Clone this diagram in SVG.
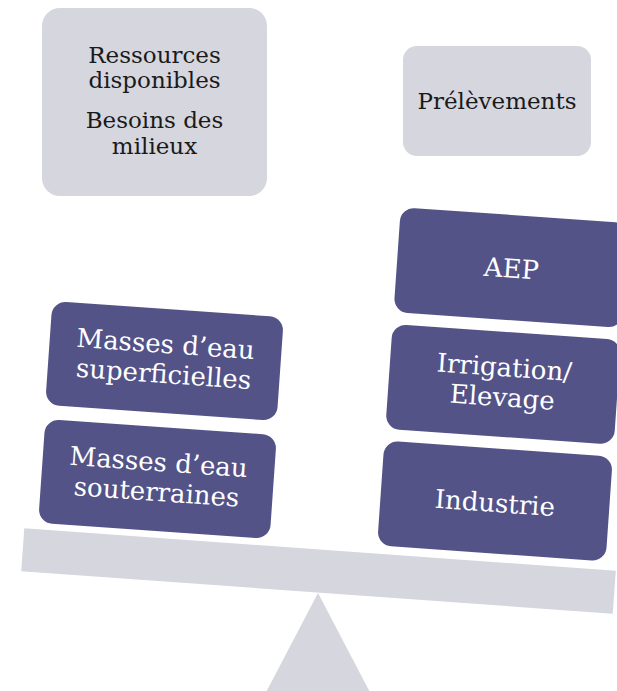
<svg xmlns="http://www.w3.org/2000/svg" width="617" height="691" viewBox="0 0 617 691">
<style>
.gray{fill:#d5d6de}
.purple{fill:#535388}
.tg{font-family:"DejaVu Serif",serif;font-size:23px;fill:#1a1a1a;text-anchor:middle}
.tw{font-family:"DejaVu Serif",serif;font-size:26px;fill:#ffffff;text-anchor:middle}
</style>
<rect width="617" height="691" fill="#ffffff"/>
<g id="support">
<polygon class="gray" points="318,593 262,700 374,700"/>
</g>
<g id="beam">
<rect class="gray" x="-296.5" y="-21.5" width="593" height="43" transform="translate(318.5,571) rotate(4.1)"/>
</g>
<g id="ressources">
<rect class="gray" x="42" y="8" width="225" height="188" rx="18"/>
<text class="tg" x="154.5" y="63">Ressources</text>
<text class="tg" x="154.5" y="88">disponibles</text>
<text class="tg" x="154.5" y="128">Besoins des</text>
<text class="tg" x="154.5" y="154">milieux</text>
</g>
<g id="prelevements">
<rect class="gray" x="403" y="46" width="188" height="110" rx="14"/>
<text class="tg" x="497" y="109">Prélèvements</text>
</g>
<g id="superficielles" transform="translate(164.5,361) rotate(4)">
<rect class="purple" x="-116" y="-52" width="232" height="104" rx="14"/>
<text class="tw" x="0" y="-8">Masses d’eau</text>
<text class="tw" x="0" y="22">superficielles</text>
</g>
<g id="souterraines" transform="translate(157.5,479) rotate(4)">
<rect class="purple" x="-116" y="-52" width="232" height="104" rx="14"/>
<text class="tw" x="0" y="-8">Masses d’eau</text>
<text class="tw" x="0" y="22">souterraines</text>
</g>
<g id="aep" transform="translate(511.4,267.6) rotate(4)">
<rect class="purple" x="-114.5" y="-52.5" width="229" height="105" rx="14"/>
<text class="tw" x="0" y="10">AEP</text>
</g>
<g id="irrigation" transform="translate(503.2,384.3) rotate(4)">
<rect class="purple" x="-114.5" y="-52.5" width="229" height="105" rx="14"/>
<text class="tw" x="0" y="-8">Irrigation/</text>
<text class="tw" x="0" y="22">Elevage</text>
</g>
<g id="industrie" transform="translate(495,501) rotate(4)">
<rect class="purple" x="-114.5" y="-52.5" width="229" height="105" rx="14"/>
<text class="tw" x="0" y="11">Industrie</text>
</g>
<g id="connectors"></g>
</svg>
